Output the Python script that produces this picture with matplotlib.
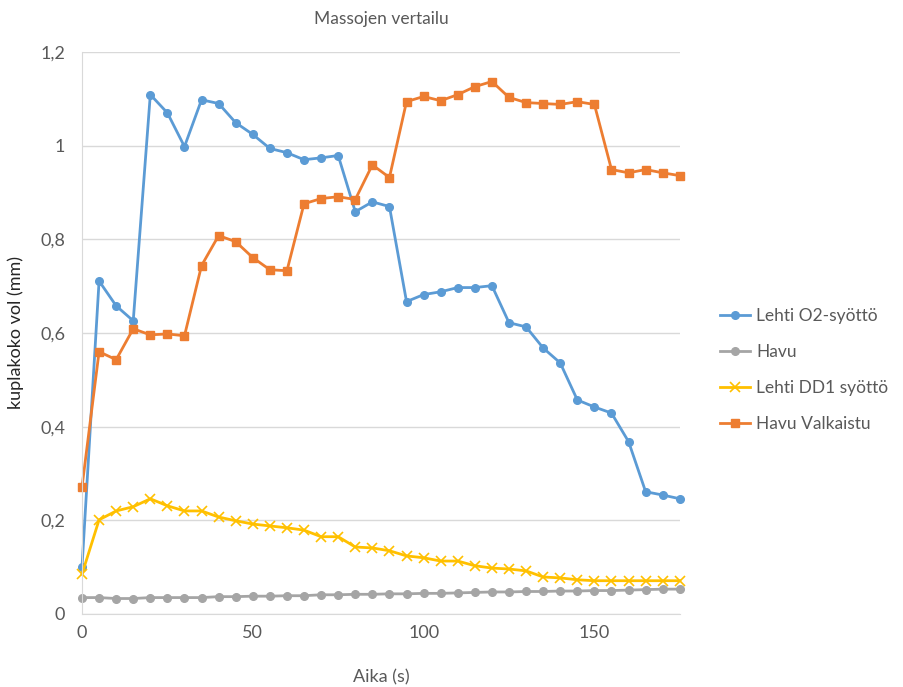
import numpy as np
from matplotlib import pyplot as plt
from matplotlib.ticker import FuncFormatter

# aika sekunteina, mittaus 5 s valein
aika = list(range(0, 180, 5))

lehti_o2 = [0.100, 0.711, 0.658, 0.626, 1.109, 1.070, 0.998, 1.098, 1.090, 1.049,
            1.024, 0.994, 0.985, 0.970, 0.974, 0.979, 0.859, 0.880, 0.870, 0.667,
            0.682, 0.688, 0.697, 0.697, 0.701, 0.622, 0.613, 0.568, 0.536, 0.457,
            0.442, 0.429, 0.368, 0.261, 0.254, 0.246]

havu = [0.035, 0.035, 0.033, 0.033, 0.035, 0.035, 0.035, 0.035, 0.037, 0.037,
        0.038, 0.038, 0.039, 0.039, 0.041, 0.041, 0.042, 0.042, 0.043, 0.043,
        0.044, 0.044, 0.045, 0.046, 0.047, 0.047, 0.048, 0.048, 0.049, 0.049,
        0.050, 0.050, 0.051, 0.052, 0.053, 0.053]

lehti_dd1 = [0.085, 0.201, 0.220, 0.229, 0.246, 0.231, 0.220, 0.220, 0.207, 0.199,
             0.192, 0.188, 0.184, 0.179, 0.165, 0.165, 0.143, 0.141, 0.135, 0.124,
             0.120, 0.113, 0.113, 0.103, 0.098, 0.096, 0.092, 0.079, 0.077, 0.073,
             0.071, 0.071, 0.071, 0.071, 0.071, 0.071]

havu_valk = [0.271, 0.560, 0.543, 0.609, 0.596, 0.598, 0.594, 0.744, 0.808, 0.795,
             0.761, 0.735, 0.733, 0.876, 0.887, 0.891, 0.885, 0.959, 0.932, 1.094,
             1.105, 1.096, 1.109, 1.126, 1.137, 1.103, 1.092, 1.090, 1.088, 1.094,
             1.088, 0.949, 0.942, 0.949, 0.942, 0.936]

plt.rcParams['font.family'] = ['Lato', 'DejaVu Sans']
teksti = '#595959'

fig = plt.figure(figsize=(9.04, 6.87), dpi=100)
ax = fig.add_axes([0.0907, 0.1063, 0.6613, 0.818])

ax.plot(aika, lehti_o2, color='#5B9BD5', lw=2, marker='o', ms=5.5, label='Lehti O2-syöttö', clip_on=False)
ax.plot(aika, havu, color='#A5A5A5', lw=2, marker='o', ms=5.5, label='Havu', clip_on=False)
ax.plot(aika, lehti_dd1, color='#FFC000', lw=2, marker='x', ms=7, mew=1.2, label='Lehti DD1 syöttö', clip_on=False)
ax.plot(aika, havu_valk, color='#ED7D31', lw=2, marker='s', ms=6, label='Havu Valkaistu', clip_on=False)

ax.set_xlim(0, 175)
ax.set_ylim(0, 1.2)
ax.set_xticks([0, 50, 100, 150])
ax.set_yticks(np.arange(0, 1.21, 0.2))
ax.yaxis.set_major_formatter(FuncFormatter(lambda v, p: ('%g' % round(v, 1)).replace('.', ',')))

ax.grid(axis='y', color='#D9D9D9', lw=1)
ax.set_axisbelow(True)
for s in ['top', 'right']:
    ax.spines[s].set_visible(False)
for s in ['left', 'bottom']:
    ax.spines[s].set_color('#D9D9D9')
ax.tick_params(length=0, labelsize=13, colors=teksti)
ax.tick_params(axis='x', pad=8)
ax.tick_params(axis='y', pad=12)

ax.set_title('Massojen vertailu', fontsize=12.5, color=teksti, pad=20)
ax.set_xlabel('Aika (s)', fontsize=13, color=teksti, labelpad=20)
ax.set_ylabel('kuplakoko vol (mm)', fontsize=13, color='#262626', labelpad=12)

ax.legend(loc='center left', bbox_to_anchor=(1.0, 0.434), frameon=False, fontsize=12.5,
          labelcolor=teksti, handlelength=1.75, handletextpad=0.35, labelspacing=1.15,
          borderaxespad=1.9)

fig.savefig('out.png', dpi=100)
